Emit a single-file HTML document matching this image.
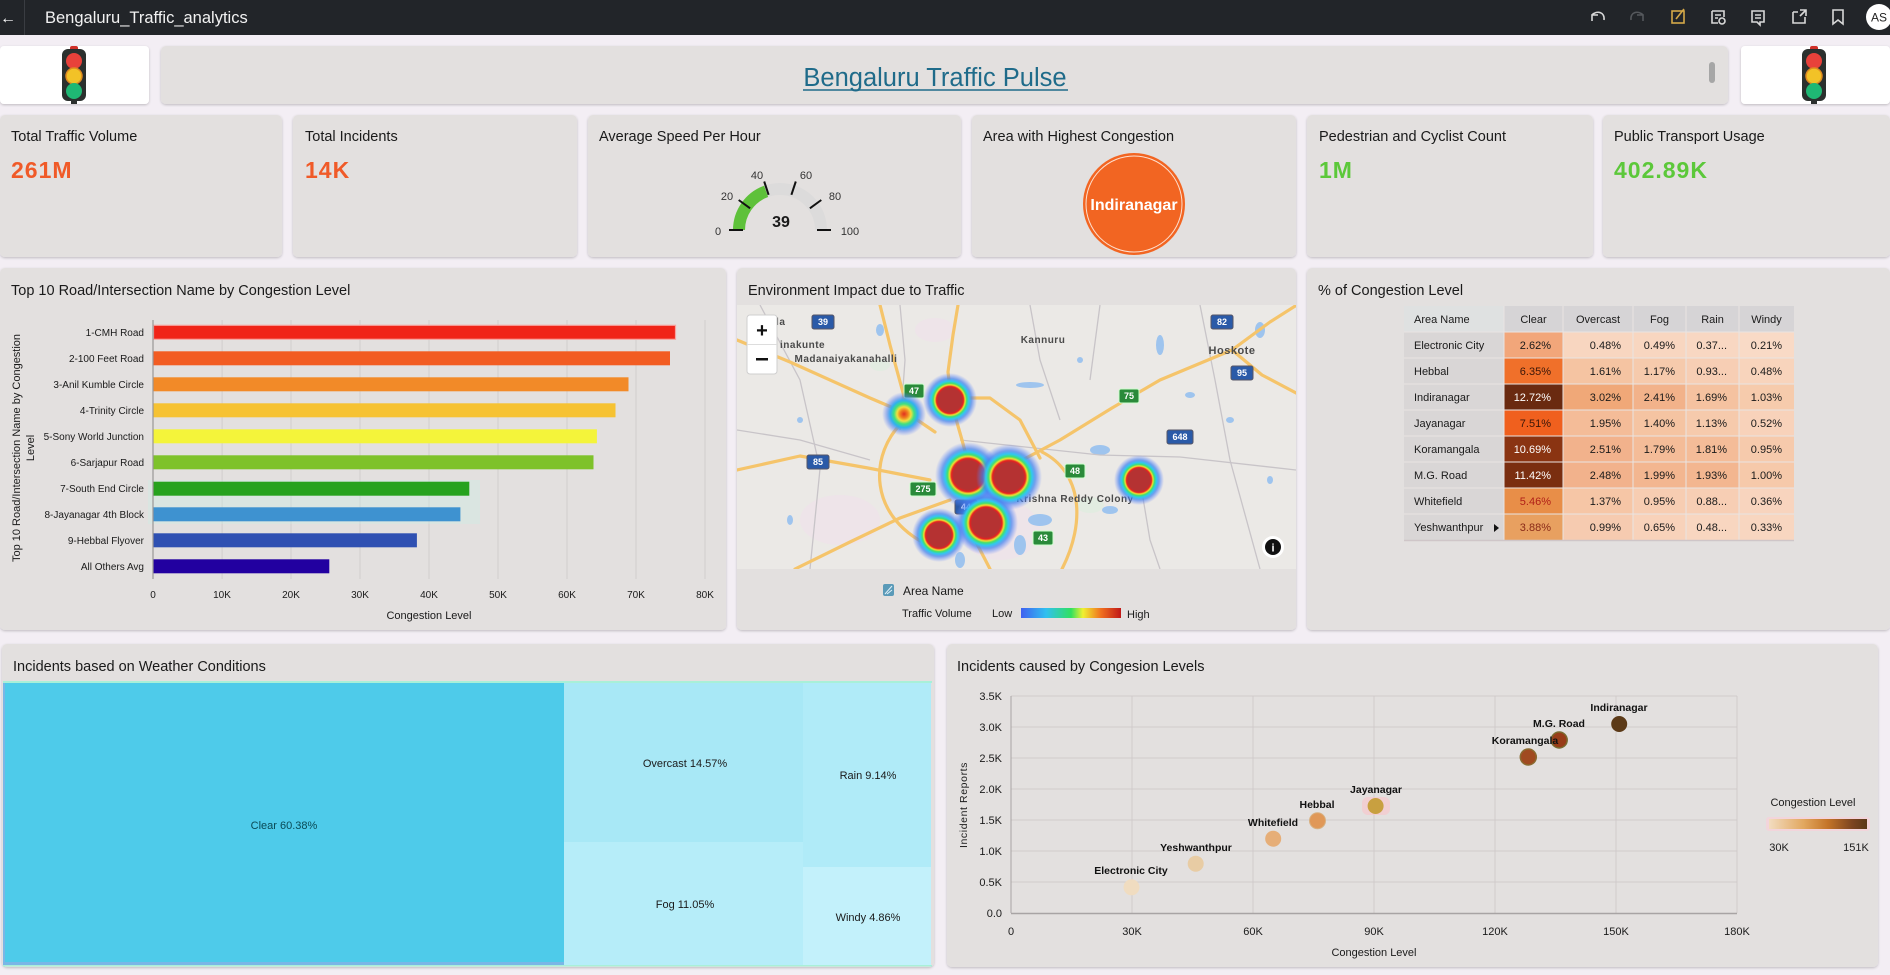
<!DOCTYPE html>
<html><head><meta charset="utf-8"><style>
html,body{margin:0;padding:0;width:1890px;height:975px;overflow:hidden;background:#f3eef4;}
svg{display:block}
text{font-family:"Liberation Sans",sans-serif;}
</style></head><body>
<svg width="1890" height="975" viewBox="0 0 1890 975" xmlns="http://www.w3.org/2000/svg">
<defs>
<filter id="sh" x="-5%" y="-5%" width="110%" height="110%"><feDropShadow dx="0" dy="1" stdDeviation="1.2" flood-color="#000" flood-opacity="0.22"/></filter>
<radialGradient id="heat">
<stop offset="0" stop-color="#b53232"/><stop offset="0.44" stop-color="#b53232"/>
<stop offset="0.5" stop-color="#e82020"/><stop offset="0.56" stop-color="#f0e030"/>
<stop offset="0.62" stop-color="#40e070"/><stop offset="0.7" stop-color="#30c8f0"/>
<stop offset="0.8" stop-color="#4080f0" stop-opacity="0.7"/><stop offset="1" stop-color="#6080ff" stop-opacity="0"/>
</radialGradient>
<radialGradient id="heat2">
<stop offset="0" stop-color="#e03020"/><stop offset="0.18" stop-color="#f08020"/>
<stop offset="0.32" stop-color="#f0e040"/><stop offset="0.46" stop-color="#40e080"/>
<stop offset="0.62" stop-color="#30b0f0"/><stop offset="0.8" stop-color="#5080f0" stop-opacity="0.5"/>
<stop offset="1" stop-color="#6080ff" stop-opacity="0"/>
</radialGradient>
<linearGradient id="tv" x1="0" x2="1"><stop offset="0" stop-color="#4060f0"/><stop offset="0.25" stop-color="#30c0f0"/><stop offset="0.5" stop-color="#30e060"/><stop offset="0.62" stop-color="#f0f030"/><stop offset="0.8" stop-color="#f07020"/><stop offset="1" stop-color="#c01818"/></linearGradient>
<linearGradient id="cl" x1="0" x2="1"><stop offset="0" stop-color="#f2dcc0"/><stop offset="0.35" stop-color="#e2a860"/><stop offset="0.6" stop-color="#c47428"/><stop offset="0.85" stop-color="#7c4420"/><stop offset="1" stop-color="#5a3818"/></linearGradient>
<clipPath id="mapclip"><rect x="737" y="305" width="559" height="264"/></clipPath>
</defs>

<!-- header -->
<rect x="0" y="0" width="1890" height="35" fill="#222529"/>
<text x="0" y="23" fill="#fff" font-size="16">←</text>
<line x1="24.5" y1="0" x2="24.5" y2="35" stroke="#3a3d42"/>
<text x="45" y="23" fill="#f2f2f2" font-size="16.5">Bengaluru_Traffic_analytics</text>
<g fill="none" stroke="#d8d8d8" stroke-width="1.6">
<path d="M1592,21 l0,-6 l6,0 M1592,15 C1597,10 1605,12 1604,20"/>
<path d="M1643,21 l0,-6 l-6,0 M1643,15 C1638,10 1630,12 1631,20" stroke="#55585c"/>
<rect x="1672" y="11" width="12" height="12" stroke="#d4a848"/><path d="M1676,19 L1684,9" stroke="#d4a848"/>
<path d="M1712,11 h12 v6 M1712,11 v12 h6 M1715,15 h6 M1715,18 h3"/><circle cx="1722" cy="21" r="3"/>
<path d="M1752,11 h12 v11 h-4 l0,3 l-3,-3 h-5 z M1755,15 h6 M1755,18 h6"/>
<path d="M1793,12 h5 M1793,12 v11 h12 v-6 M1800,10 h6 v6 M1806,10 l-6,6"/>
<path d="M1833,10 h10 v14 l-5,-4 l-5,4 z"/>
</g>
<circle cx="1879" cy="17" r="13" fill="#fff"/>
<text x="1879" y="21.5" fill="#222" font-size="12" text-anchor="middle">AS</text>

<!-- row 1 -->
<rect x="0" y="46" width="149" height="58" rx="4" fill="#fff" filter="url(#sh)"/>
<rect x="161" y="46" width="1567" height="58" rx="5" fill="#e3e0df" filter="url(#sh)"/>
<rect x="1741" y="46" width="149" height="58" rx="4" fill="#fff" filter="url(#sh)"/>
<g id="tl">
<rect x="70" y="46" width="8" height="5" rx="2" fill="#d03028"/>
<rect x="62" y="49" width="24" height="52" rx="6" fill="#2b302e"/>
<rect x="71" y="100" width="6" height="4" fill="#2b302e"/>
<circle cx="74" cy="61" r="8" fill="#e8413a"/>
<circle cx="74" cy="76" r="8" fill="#f2c227" stroke="#e08a20" stroke-width="1.5"/>
<circle cx="74" cy="91" r="8" fill="#1fb874"/>
</g>
<use href="#tl" x="1740" y="0"/>
<text x="935" y="86" fill="#1f6b8a" font-size="25.5" text-anchor="middle">Bengaluru Traffic Pulse</text>
<line x1="803" y1="90" x2="1068" y2="90" stroke="#1f6b8a" stroke-width="1.5"/>
<rect x="1709" y="62" width="6" height="21" rx="3" fill="#a6a6a6"/>

<!-- row 2 KPI cards -->
<g filter="url(#sh)" fill="#e3e0df">
<rect x="0" y="115" width="282" height="142" rx="5"/>
<rect x="293" y="115" width="284" height="142" rx="5"/>
<rect x="588" y="115" width="373" height="142" rx="5"/>
<rect x="972" y="115" width="324" height="142" rx="5"/>
<rect x="1307" y="115" width="286" height="142" rx="5"/>
<rect x="1603" y="115" width="287" height="142" rx="5"/>
</g>
<g font-size="14.5" fill="#1a1a1a">
<text x="11" y="141">Total Traffic Volume</text>
<text x="305" y="141">Total Incidents</text>
<text x="599" y="141">Average Speed Per Hour</text>
<text x="983" y="141">Area with Highest Congestion</text>
<text x="1319" y="141">Pedestrian and Cyclist Count</text>
<text x="1614" y="141">Public Transport Usage</text>
</g>
<g font-size="23" font-weight="bold" letter-spacing="1">
<text x="11" y="178" fill="#f05a28">261M</text>
<text x="305" y="178" fill="#f05a28">14K</text>
<text x="1319" y="178" fill="#5cc83a">1M</text>
<text x="1614" y="178" fill="#5cc83a">402.89K</text>
</g>
<!-- gauge -->
<path d="M739,230 A41,41 0 0 1 821,230" fill="none" stroke="#dcdbdb" stroke-width="12"/>
<path d="M739,230 A41,41 0 0 1 766.1,191.4" fill="none" stroke="#5ec13a" stroke-width="12"/>
<g stroke="#111" stroke-width="2">
<line x1="743" y1="230" x2="729" y2="230"/><line x1="750.1" y1="208.3" x2="738.7" y2="200"/>
<line x1="768.6" y1="194.8" x2="764.2" y2="181.5"/><line x1="791.4" y1="194.8" x2="795.8" y2="181.5"/>
<line x1="809.9" y1="208.3" x2="821.3" y2="200"/><line x1="817" y1="230" x2="831" y2="230"/>
</g>
<g font-size="11" fill="#333" text-anchor="middle">
<text x="718" y="235">0</text><text x="727" y="200">20</text><text x="757" y="179">40</text>
<text x="806" y="179">60</text><text x="835" y="200">80</text><text x="850" y="235">100</text>
</g>
<text x="781" y="227" font-size="16" font-weight="bold" fill="#1a1a1a" text-anchor="middle">39</text>
<!-- area circle -->
<circle cx="1134" cy="204" r="51" fill="#f26522"/>
<circle cx="1134" cy="204" r="48" fill="none" stroke="#fde0d0" stroke-width="1"/>
<text x="1134" y="210" font-size="16" font-weight="bold" fill="#fff" text-anchor="middle">Indiranagar</text>

<!-- row 3 panels -->
<g filter="url(#sh)" fill="#e3e0df">
<rect x="0" y="268" width="726" height="362" rx="5"/>
<rect x="737" y="268" width="559" height="362" rx="5"/>
<rect x="1307" y="268" width="583" height="362" rx="5"/>
</g>
<g font-size="14.5" fill="#1a1a1a">
<text x="11" y="295">Top 10 Road/Intersection Name by Congestion Level</text>
<text x="748" y="295">Environment Impact due to Traffic</text>
<text x="1318" y="295">% of Congestion Level</text>
</g>

<!-- bar chart -->
<g stroke="#d2cece" stroke-width="1">
<line x1="222.1" y1="320" x2="222.1" y2="579"/><line x1="291" y1="320" x2="291" y2="579"/>
<line x1="360" y1="320" x2="360" y2="579"/><line x1="429" y1="320" x2="429" y2="579"/>
<line x1="498" y1="320" x2="498" y2="579"/><line x1="567" y1="320" x2="567" y2="579"/>
<line x1="636" y1="320" x2="636" y2="579"/><line x1="705" y1="320" x2="705" y2="579"/>
</g>
<rect x="148" y="480" width="332" height="44" fill="#c8eee4" opacity="0.35"/>
<g>
<rect x="153.5" y="325.3" width="522" height="14" fill="#f02418" stroke="#f7a4a0" stroke-width="1.2"/>
<rect x="153.5" y="351.3" width="516.5" height="14" fill="#f25c22"/>
<rect x="153.5" y="377.3" width="475" height="14" fill="#f28a28"/>
<rect x="153.5" y="403.3" width="462" height="14" fill="#f6c232"/>
<rect x="153.5" y="429.3" width="443.4" height="14" fill="#f4f43a"/>
<rect x="153.5" y="455.3" width="440" height="14" fill="#7ec22a"/>
<rect x="153.5" y="481.7" width="315.8" height="14" fill="#26a21e"/>
<rect x="153.5" y="507.3" width="306.9" height="14" fill="#3e92d0"/>
<rect x="153.5" y="533.3" width="263.4" height="14" fill="#2f50b2"/>
<rect x="153.5" y="559.3" width="175.8" height="14" fill="#2200a0"/>
</g>
<line x1="153" y1="320" x2="153" y2="579" stroke="#9a9696" stroke-width="1.2"/>
<g font-size="10" fill="#1a1a1a" text-anchor="end">
<text x="144" y="336">1-CMH Road</text><text x="144" y="362">2-100 Feet Road</text>
<text x="144" y="388">3-Anil Kumble Circle</text><text x="144" y="414">4-Trinity Circle</text>
<text x="144" y="440">5-Sony World Junction</text><text x="144" y="466">6-Sarjapur Road</text>
<text x="144" y="492">7-South End Circle</text><text x="144" y="518">8-Jayanagar 4th Block</text>
<text x="144" y="544">9-Hebbal Flyover</text><text x="144" y="570">All Others Avg</text>
</g>
<g font-size="10" fill="#1a1a1a" text-anchor="middle">
<text x="153" y="598">0</text><text x="222" y="598">10K</text><text x="291" y="598">20K</text>
<text x="360" y="598">30K</text><text x="429" y="598">40K</text><text x="498" y="598">50K</text>
<text x="567" y="598">60K</text><text x="636" y="598">70K</text><text x="705" y="598">80K</text>
</g>
<text x="429" y="619" font-size="11" fill="#1a1a1a" text-anchor="middle">Congestion Level</text>
<g font-size="11" fill="#1a1a1a" text-anchor="middle">
<text transform="translate(20,448) rotate(-90)">Top 10 Road/Intersection Name by Congestion</text>
<text transform="translate(34,448) rotate(-90)">Level</text>
</g>

<!-- map -->
<g clip-path="url(#mapclip)">
<rect x="737" y="305" width="559" height="264" fill="#ebe9e6"/>
<g fill="#efe2ea" opacity="0.8">
<ellipse cx="840" cy="520" rx="40" ry="25"/><ellipse cx="1000" cy="530" rx="40" ry="30"/><ellipse cx="935" cy="330" rx="20" ry="12"/>
</g>
<g fill="#e0ece0" opacity="0.8"><ellipse cx="880" cy="365" rx="10" ry="6"/><ellipse cx="1090" cy="505" rx="14" ry="8"/></g>
<g fill="#9ec4ee">
<ellipse cx="1160" cy="345" rx="4" ry="10"/><ellipse cx="1100" cy="450" rx="10" ry="5"/><ellipse cx="1040" cy="520" rx="12" ry="6"/>
<ellipse cx="1020" cy="545" rx="6" ry="10"/><ellipse cx="1110" cy="510" rx="8" ry="4"/><ellipse cx="1030" cy="385" rx="14" ry="3"/>
<ellipse cx="880" cy="330" rx="4" ry="6"/><ellipse cx="1260" cy="330" rx="5" ry="8"/><ellipse cx="1190" cy="395" rx="5" ry="3"/>
<ellipse cx="800" cy="420" rx="3" ry="3"/><ellipse cx="960" cy="560" rx="5" ry="8"/><ellipse cx="1230" cy="420" rx="4" ry="3"/>
<ellipse cx="1080" cy="360" rx="3" ry="3"/><ellipse cx="1270" cy="480" rx="3" ry="4"/><ellipse cx="790" cy="520" rx="3" ry="5"/>
</g>
<g fill="none" stroke="#c8c4c8" stroke-width="1.3">
<path d="M960,440 L1100,455 L1180,457 L1296,470"/><path d="M900,305 L905,360 L900,430"/>
<path d="M1030,305 L1040,360 L1060,420"/><path d="M1200,305 L1215,380 L1230,460 L1260,569"/>
<path d="M760,305 L800,380 L820,469 L810,569"/><path d="M1140,480 L1150,540 L1160,569"/>
<path d="M737,430 L800,440 L870,460"/><path d="M1100,305 L1090,380"/>
</g>
<g fill="none" stroke="#f5c46a" stroke-width="3.2" stroke-linecap="round" stroke-linejoin="round">
<path d="M737,340 L790,362 L870,398 L910,415 L935,432"/>
<path d="M958,305 L953,335 L948,372 L952,405 L962,440 L970,470"/>
<path d="M1000,472 L1060,440 L1112,408 L1160,380 L1232,350 L1270,322 L1300,303"/>
<path d="M1232,350 L1262,375 L1300,395"/>
<path d="M905,420 C868,452 866,520 935,548"/>
<path d="M950,500 L900,518 L850,542 L795,569"/>
<path d="M1042,452 C1082,472 1086,522 1062,569"/>
<path d="M737,470 L800,456 L868,468 L930,480"/>
<path d="M935,398 L990,398 L1020,420 L1040,458"/>
<path d="M880,305 L890,345 L905,400"/>
<path d="M975,540 L990,569"/>
</g>
<g font-size="9" font-weight="bold" fill="#fff" text-anchor="middle">
<rect x="812" y="315" width="22" height="14" rx="2" fill="#2a5aa8" stroke="#556" stroke-width="1"/><text x="823" y="325">39</text>
<rect x="1211" y="315" width="22" height="14" rx="2" fill="#2a5aa8" stroke="#556"/><text x="1222" y="325">82</text>
<rect x="1231" y="366" width="22" height="14" rx="2" fill="#2a5aa8" stroke="#556"/><text x="1242" y="376">95</text>
<rect x="1167" y="430" width="26" height="14" rx="2" fill="#2a5aa8" stroke="#556"/><text x="1180" y="440">648</text>
<rect x="807" y="455" width="22" height="14" rx="2" fill="#2a5aa8" stroke="#556"/><text x="818" y="465">85</text>
<rect x="955" y="500" width="22" height="14" rx="2" fill="#2a5aa8" stroke="#556"/><text x="966" y="510">44</text>
<rect x="904" y="384" width="20" height="14" rx="2" fill="#2a8a3a" stroke="#cfc"/><text x="914" y="394">47</text>
<rect x="1119" y="389" width="20" height="14" rx="2" fill="#2a8a3a" stroke="#cfc"/><text x="1129" y="399">75</text>
<rect x="1065" y="464" width="20" height="14" rx="2" fill="#2a8a3a" stroke="#cfc"/><text x="1075" y="474">48</text>
<rect x="910" y="482" width="26" height="14" rx="2" fill="#2a8a3a" stroke="#cfc"/><text x="923" y="492">275</text>
<rect x="1033" y="531" width="20" height="14" rx="2" fill="#2a8a3a" stroke="#cfc"/><text x="1043" y="541">43</text>
</g>
<g font-size="10" font-weight="bold" fill="#4a4a4a" letter-spacing="0.5">
<text x="1043" y="343" text-anchor="middle">Kannuru</text>
<text x="1232" y="354" text-anchor="middle" font-size="11">Hoskote</text>
<text x="846" y="362" text-anchor="middle">Madanaiyakanahalli</text>
<text x="780" y="348">inakunte</text>
<text x="770" y="325">ala</text>
<text x="1075" y="502" text-anchor="middle">Krishna Reddy Colony</text>
</g>
<circle cx="904" cy="414" r="22" fill="url(#heat2)"/>
<circle cx="950" cy="400" r="27" fill="url(#heat)"/>
<circle cx="968" cy="475" r="33" fill="url(#heat)"/>
<circle cx="1009" cy="477" r="33" fill="url(#heat)"/>
<circle cx="1139" cy="480" r="25" fill="url(#heat)"/>
<circle cx="986" cy="523" r="32" fill="url(#heat)"/>
<circle cx="939" cy="535" r="27" fill="url(#heat)"/>
<rect x="747" y="315" width="30" height="59" rx="3" fill="#fff" stroke="#cfcfcf"/>
<line x1="747" y1="344.5" x2="777" y2="344.5" stroke="#ddd"/>
<text x="762" y="337" font-size="20" font-weight="bold" fill="#111" text-anchor="middle">+</text>
<rect x="756" y="358" width="12" height="2.5" fill="#111"/>
<circle cx="1273" cy="547" r="11" fill="#fff"/>
<circle cx="1273" cy="547" r="8" fill="#111"/>
<text x="1273" y="551.5" font-size="11" font-weight="bold" fill="#fff" text-anchor="middle">i</text>
</g>
<rect x="883" y="584" width="11" height="12" rx="2" fill="#5a9ab8"/>
<path d="M885,594 L892,586 M887,594 L892,590" stroke="#e0f0f8" stroke-width="1"/>
<text x="903" y="595" font-size="12" fill="#1a1a1a">Area Name</text>
<text x="902" y="617" font-size="11" fill="#1a1a1a">Traffic Volume</text>
<text x="992" y="617" font-size="11" fill="#1a1a1a">Low</text>
<rect x="1021" y="608" width="100" height="10" fill="url(#tv)"/>
<text x="1127" y="618" font-size="11" fill="#1a1a1a">High</text>

<!-- table -->
<g font-size="11" fill="#1a1a1a">
<rect x="1404" y="306" width="100" height="26" fill="#dfe1e1"/>
<rect x="1504" y="306" width="290" height="26" fill="#d6d4d6"/>
<text x="1414" y="323">Area Name</text>
<g text-anchor="middle"><text x="1533.5" y="323">Clear</text><text x="1598" y="323">Overcast</text><text x="1659.5" y="323">Fog</text><text x="1712.5" y="323">Rain</text><text x="1766.5" y="323">Windy</text></g>
<rect x="1404" y="332" width="100" height="208" fill="#d9d6d6"/>
<g>
<rect x="1504" y="332" width="59" height="26" fill="#f2a67a"/><rect x="1563" y="332" width="70" height="26" fill="#f8d6c0"/><rect x="1633" y="332" width="53" height="26" fill="#f8d6c0"/><rect x="1686" y="332" width="53" height="26" fill="#f8d7c2"/><rect x="1739" y="332" width="55" height="26" fill="#f9dac6"/>
<rect x="1504" y="358" width="59" height="26" fill="#f0702a"/><rect x="1563" y="358" width="70" height="26" fill="#f5c4a2"/><rect x="1633" y="358" width="53" height="26" fill="#f6caac"/><rect x="1686" y="358" width="53" height="26" fill="#f7ceb4"/><rect x="1739" y="358" width="55" height="26" fill="#f8d4bc"/>
<rect x="1504" y="384" width="59" height="26" fill="#6a2a10"/><rect x="1563" y="384" width="70" height="26" fill="#f0a878"/><rect x="1633" y="384" width="53" height="26" fill="#f2b28a"/><rect x="1686" y="384" width="53" height="26" fill="#f5c2a0"/><rect x="1739" y="384" width="55" height="26" fill="#f6cbac"/>
<rect x="1504" y="410" width="59" height="26" fill="#f0601e"/><rect x="1563" y="410" width="70" height="26" fill="#f4bc98"/><rect x="1633" y="410" width="53" height="26" fill="#f5c4a2"/><rect x="1686" y="410" width="53" height="26" fill="#f6caac"/><rect x="1739" y="410" width="55" height="26" fill="#f8d2ba"/>
<rect x="1504" y="436" width="59" height="26" fill="#8a3412"/><rect x="1563" y="436" width="70" height="26" fill="#f2b28c"/><rect x="1633" y="436" width="53" height="26" fill="#f4bc98"/><rect x="1686" y="436" width="53" height="26" fill="#f4bc98"/><rect x="1739" y="436" width="55" height="26" fill="#f6caac"/>
<rect x="1504" y="462" width="59" height="26" fill="#7a2e10"/><rect x="1563" y="462" width="70" height="26" fill="#f2b28c"/><rect x="1633" y="462" width="53" height="26" fill="#f3b690"/><rect x="1686" y="462" width="53" height="26" fill="#f3b690"/><rect x="1739" y="462" width="55" height="26" fill="#f6c9aa"/>
<rect x="1504" y="488" width="59" height="26" fill="#e88e48"/><rect x="1563" y="488" width="70" height="26" fill="#f6c6a6"/><rect x="1633" y="488" width="53" height="26" fill="#f7cdb2"/><rect x="1686" y="488" width="53" height="26" fill="#f7ceb4"/><rect x="1739" y="488" width="55" height="26" fill="#f8d4be"/>
<rect x="1504" y="514" width="59" height="26" fill="#e8a060"/><rect x="1563" y="514" width="70" height="26" fill="#f6cbb0"/><rect x="1633" y="514" width="53" height="26" fill="#f8d2ba"/><rect x="1686" y="514" width="53" height="26" fill="#f8d6c0"/><rect x="1739" y="514" width="55" height="26" fill="#f8d6c0"/>
</g>
<g stroke="#e9e4e2" stroke-width="1">
<line x1="1404" y1="332" x2="1794" y2="332"/><line x1="1404" y1="358" x2="1794" y2="358"/><line x1="1404" y1="384" x2="1794" y2="384"/><line x1="1404" y1="410" x2="1794" y2="410"/><line x1="1404" y1="436" x2="1794" y2="436"/><line x1="1404" y1="462" x2="1794" y2="462"/><line x1="1404" y1="488" x2="1794" y2="488"/><line x1="1404" y1="514" x2="1794" y2="514"/>
<line x1="1504" y1="306" x2="1504" y2="540"/><line x1="1563" y1="306" x2="1563" y2="540"/><line x1="1633" y1="306" x2="1633" y2="540"/><line x1="1686" y1="306" x2="1686" y2="540"/><line x1="1739" y1="306" x2="1739" y2="540"/>
</g>
<line x1="1404" y1="540.5" x2="1794" y2="540.5" stroke="#cfc6c8" stroke-width="1.5"/>
<g>
<text x="1414" y="349">Electronic City</text><text x="1414" y="375">Hebbal</text><text x="1414" y="401">Indiranagar</text><text x="1414" y="427">Jayanagar</text>
<text x="1414" y="453">Koramangala</text><text x="1414" y="479">M.G. Road</text><text x="1414" y="505">Whitefield</text><text x="1414" y="531">Yeshwanthpur</text>
</g>
<path d="M1494,524 L1499,528 L1494,532 z" fill="#111"/>
<g text-anchor="end">
<text x="1551" y="349">2.62%</text><text x="1551" y="375" fill="#3a1608">6.35%</text><text x="1551" y="401" fill="#fff">12.72%</text><text x="1551" y="427" fill="#3a1608">7.51%</text>
<text x="1551" y="453" fill="#fff">10.69%</text><text x="1551" y="479" fill="#fff">11.42%</text><text x="1551" y="505" fill="#b02018">5.46%</text><text x="1551" y="531" fill="#8a2a18">3.88%</text>
<text x="1621" y="349">0.48%</text><text x="1621" y="375">1.61%</text><text x="1621" y="401">3.02%</text><text x="1621" y="427">1.95%</text>
<text x="1621" y="453">2.51%</text><text x="1621" y="479">2.48%</text><text x="1621" y="505">1.37%</text><text x="1621" y="531">0.99%</text>
<text x="1675" y="349">0.49%</text><text x="1675" y="375">1.17%</text><text x="1675" y="401">2.41%</text><text x="1675" y="427">1.40%</text>
<text x="1675" y="453">1.79%</text><text x="1675" y="479">1.99%</text><text x="1675" y="505">0.95%</text><text x="1675" y="531">0.65%</text>
<text x="1727" y="349">0.37...</text><text x="1727" y="375">0.93...</text><text x="1727" y="401">1.69%</text><text x="1727" y="427">1.13%</text>
<text x="1727" y="453">1.81%</text><text x="1727" y="479">1.93%</text><text x="1727" y="505">0.88...</text><text x="1727" y="531">0.48...</text>
<text x="1782" y="349">0.21%</text><text x="1782" y="375">0.48%</text><text x="1782" y="401">1.03%</text><text x="1782" y="427">0.52%</text>
<text x="1782" y="453">0.95%</text><text x="1782" y="479">1.00%</text><text x="1782" y="505">0.36%</text><text x="1782" y="531">0.33%</text>
</g>
</g>

<!-- row 4 panels -->
<g filter="url(#sh)" fill="#e3e0df">
<rect x="2" y="644" width="932" height="323" rx="5"/>
<rect x="947" y="644" width="931" height="323" rx="5"/>
</g>
<text x="13" y="671" font-size="14.5" fill="#1a1a1a">Incidents based on Weather Conditions</text>
<text x="957" y="671" font-size="14.5" fill="#1a1a1a">Incidents caused by Congesion Levels</text>

<!-- treemap -->
<rect x="3" y="681" width="929" height="2" fill="#a8f0d8"/>
<rect x="3" y="683" width="561" height="282" fill="#4ecbea"/>
<rect x="3" y="683" width="2" height="282" fill="#7ab6e6"/>
<rect x="3" y="962" width="561" height="3" fill="#7ab6e6"/>
<rect x="564" y="683" width="239" height="159" fill="#a8e8f6"/>
<rect x="564" y="842" width="239" height="123" fill="#b6edf9"/>
<rect x="803" y="683" width="128" height="184" fill="#b0ebf8"/>
<rect x="803" y="867" width="128" height="98" fill="#c3f1fb"/>
<rect x="3" y="965" width="929" height="1.5" fill="#a8f0d8"/>
<g font-size="11" text-anchor="middle">
<text x="284" y="829" fill="#0a4a55">Clear 60.38%</text>
<text x="685" y="767" fill="#1a1a1a">Overcast 14.57%</text>
<text x="685" y="908" fill="#1a1a1a">Fog 11.05%</text>
<text x="868" y="779" fill="#1a1a1a">Rain 9.14%</text>
<text x="868" y="921" fill="#1a1a1a">Windy 4.86%</text>
</g>

<!-- scatter -->
<g stroke="#d0cbcb" stroke-width="1">
<line x1="1132" y1="696" x2="1132" y2="913"/><line x1="1253" y1="696" x2="1253" y2="913"/><line x1="1374" y1="696" x2="1374" y2="913"/>
<line x1="1495" y1="696" x2="1495" y2="913"/><line x1="1616" y1="696" x2="1616" y2="913"/><line x1="1737" y1="696" x2="1737" y2="913"/>
<line x1="1011" y1="696" x2="1737" y2="696"/><line x1="1011" y1="727" x2="1737" y2="727"/><line x1="1011" y1="758" x2="1737" y2="758"/>
<line x1="1011" y1="789" x2="1737" y2="789"/><line x1="1011" y1="820" x2="1737" y2="820"/><line x1="1011" y1="851" x2="1737" y2="851"/>
<line x1="1011" y1="882" x2="1737" y2="882"/>
</g>
<line x1="1011" y1="913.5" x2="1737" y2="913.5" stroke="#a8a4a4" stroke-width="1.5"/>
<line x1="1011" y1="696" x2="1011" y2="913" stroke="#a8a4a4" stroke-width="1"/>
<g font-size="11" fill="#1a1a1a" text-anchor="end">
<text x="1002" y="700">3.5K</text><text x="1002" y="731">3.0K</text><text x="1002" y="762">2.5K</text><text x="1002" y="793">2.0K</text>
<text x="1002" y="824">1.5K</text><text x="1002" y="855">1.0K</text><text x="1002" y="886">0.5K</text><text x="1002" y="917">0.0</text>
</g>
<g font-size="11" fill="#1a1a1a" text-anchor="middle">
<text x="1011" y="935">0</text><text x="1132" y="935">30K</text><text x="1253" y="935">60K</text><text x="1374" y="935">90K</text>
<text x="1495" y="935">120K</text><text x="1616" y="935">150K</text><text x="1737" y="935">180K</text>
<text x="1374" y="956">Congestion Level</text>
<text transform="translate(967,805) rotate(-90)" font-size="10.5" letter-spacing="0.6">Incident Reports</text>
</g>
<g>
<circle cx="1131.5" cy="887.3" r="8" fill="#f0dcc0"/>
<circle cx="1195.7" cy="863.7" r="8" fill="#e8cca4"/>
<circle cx="1273.2" cy="838.7" r="8" fill="#e6ae78"/>
<circle cx="1317.5" cy="820.7" r="8" fill="#e09858" stroke="#d8b080" stroke-width="1"/>
<rect x="1362" y="797" width="28" height="18" rx="6" fill="#f6c8cc" opacity="0.7"/>
<circle cx="1375.6" cy="806" r="8" fill="#c8a040"/>
<circle cx="1528.3" cy="757" r="8" fill="#a04a20" stroke="#8a6a30" stroke-width="1.5"/>
<circle cx="1559.2" cy="740" r="8" fill="#983c18" stroke="#7a6a30" stroke-width="1.5"/>
<circle cx="1619.2" cy="724" r="8" fill="#5c3a18"/>
</g>
<g font-size="10.5" font-weight="bold" fill="#111" text-anchor="middle">
<text x="1619" y="711">Indiranagar</text>
<text x="1559" y="727">M.G. Road</text>
<text x="1525" y="744">Koramangala</text>
<text x="1376" y="793">Jayanagar</text>
<text x="1317" y="808">Hebbal</text>
<text x="1273" y="826">Whitefield</text>
<text x="1196" y="851">Yeshwanthpur</text>
<text x="1131" y="874">Electronic City</text>
</g>
<text x="1813" y="806" font-size="11" fill="#1a1a1a" text-anchor="middle">Congestion Level</text>
<rect x="1766" y="817" width="104" height="14" rx="3" fill="#f8d0d8" opacity="0.7"/>
<rect x="1769" y="819" width="98" height="10" fill="url(#cl)"/>
<text x="1779" y="851" font-size="11" fill="#1a1a1a" text-anchor="middle">30K</text>
<text x="1856" y="851" font-size="11" fill="#1a1a1a" text-anchor="middle">151K</text>
</svg>
</body></html>
